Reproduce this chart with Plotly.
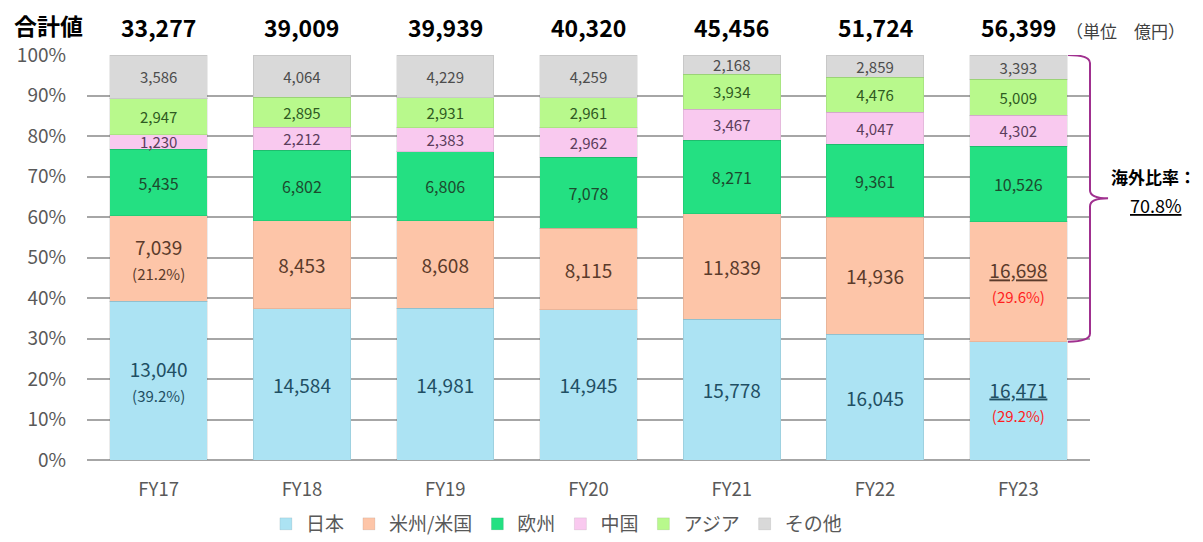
import plotly.graph_objects as go

years = ["FY17", "FY18", "FY19", "FY20", "FY21", "FY22", "FY23"]
totals = [33277, 39009, 39939, 40320, 45456, 51724, 56399]

japan = [13040, 14584, 14981, 14945, 15778, 16045, 16471]
americas = [7039, 8453, 8608, 8115, 11839, 14936, 16698]
europe = [5435, 6802, 6806, 7078, 8271, 9361, 10526]
china = [1230, 2212, 2383, 2962, 3467, 4047, 4302]
asia = [2947, 2895, 2931, 2961, 3934, 4476, 5009]
other = [3586, 4064, 4229, 4259, 2168, 2859, 3393]

series_names = ["日本", "米州/米国", "欧州", "中国", "アジア", "その他"]
colors = ["#ace3f3", "#fdc5a8", "#24e082", "#f9c9ef", "#b8f98c", "#d9d9d9"]
text_colors = ["#1f4f63", "#5b3b2b", "#1c4a2e", "#5c3d5c", "#2f5a22", "#4d4d4d"]
text_sizes = [19, 19, 16, 15, 15, 15]
pct_ticks = list(range(0, 101, 10))

FONT = "Noto Sans CJK JP"


def share(v, t):
    return f"({v / t * 100:.1f}%)"


def labels(values, idx):
    out = []
    for i, v in enumerate(values):
        s = f"{v:,}"
        if idx in (0, 1) and i == 0:
            s += f"<br><span style='font-size:15px'>{share(v, totals[i])}</span>"
        elif idx in (0, 1) and i == len(values) - 1:
            s = (f"<u>{s}</u><br><span style='font-size:15px;color:#ff1f1f'>"
                 f"{share(v, totals[i])}</span>")
        out.append(s)
    return out


fig = go.Figure()
for idx, (name, vals) in enumerate(zip(series_names, [japan, americas, europe, china, asia, other])):
    fig.add_trace(go.Bar(
        x=years, y=vals, name=name,
        marker=dict(color=colors[idx], line=dict(color="rgba(0,0,0,0.08)", width=1)),
        text=labels(vals, idx), texttemplate="%{text}",
        textposition="inside", insidetextanchor="middle", textangle=0,
        constraintext="none",
        insidetextfont=dict(family=FONT, size=text_sizes[idx], color=text_colors[idx]),
        hoverinfo="skip",
    ))

# page body has an 8px margin, so the figure is a bit smaller and margins shifted
fig.update_layout(
    barmode="stack", barnorm="percent", bargap=0.32,
    width=1195, height=534,
    margin=dict(l=79, r=113, t=47, b=82, autoexpand=False),
    paper_bgcolor="white", plot_bgcolor="white",
    font=dict(family=FONT, color="#595959"),
    legend=dict(orientation="h", x=0.468, xanchor="center", y=-0.158, yanchor="middle",
                font=dict(size=19, color="#595959"), traceorder="normal",
                itemwidth=30),
    showlegend=True,
)

fig.update_yaxes(range=[0, 100], tickvals=pct_ticks, ticktext=[f"{v}%" for v in pct_ticks],
                 showgrid=True, gridcolor="#a6a6a6", gridwidth=1.5,
                 zeroline=True, zerolinecolor="#a6a6a6", zerolinewidth=1.5,
                 tickfont=dict(size=19, color="#595959"), ticklabelstandoff=20)
fig.update_xaxes(tickfont=dict(size=18.5, color="#595959"), ticklabelstandoff=16,
                 showline=False)

# totals above bars
fig.add_annotation(text="<b>合計値</b>", xref="paper", yref="paper", x=-0.075, y=1.074,
                   xanchor="left", yanchor="middle", showarrow=False,
                   font=dict(size=23, color="#000000", family=FONT))
for yr, t in zip(years, totals):
    fig.add_annotation(text=f"<b>{t:,}</b>", x=yr, xref="x", yref="paper", y=1.07,
                       yanchor="middle", showarrow=False,
                       font=dict(size=23, color="#000000", family=FONT))
fig.add_annotation(text="（単位　億円）", xref="paper", yref="paper", x=0.974, y=1.06,
                   xanchor="left", yanchor="middle", showarrow=False,
                   font=dict(size=17, color="#404040", family=FONT))

# brace for overseas ratio
low = japan[-1] / totals[-1] * 100
mid = (100 + low) / 2
x0, x1, x2 = 0.978, 1.0, 1.018
path = (f"M {x0},100 Q {x1},100 {x1},98 L {x1},{mid + 2} Q {x1},{mid} {x2},{mid} "
        f"Q {x1},{mid} {x1},{mid - 2} L {x1},{low + 2} Q {x1},{low} {x0},{low}")
fig.add_shape(type="path", path=path, xref="paper", yref="y",
              line=dict(color="#a0308f", width=2))
overseas = 100 - round(low, 1)
fig.add_annotation(text="<b>海外比率：</b>", xref="paper", yref="y", x=1.063, y=69.9,
                   xanchor="center", yanchor="middle", showarrow=False,
                   font=dict(size=17, color="#000000", family=FONT))
fig.add_annotation(text=f"<u>{overseas:.1f}%</u>", xref="paper", yref="y", x=1.066, y=63.0,
                   xanchor="center", yanchor="middle", showarrow=False,
                   font=dict(size=18, color="#000000", family=FONT))

fig.write_html("out.html")
